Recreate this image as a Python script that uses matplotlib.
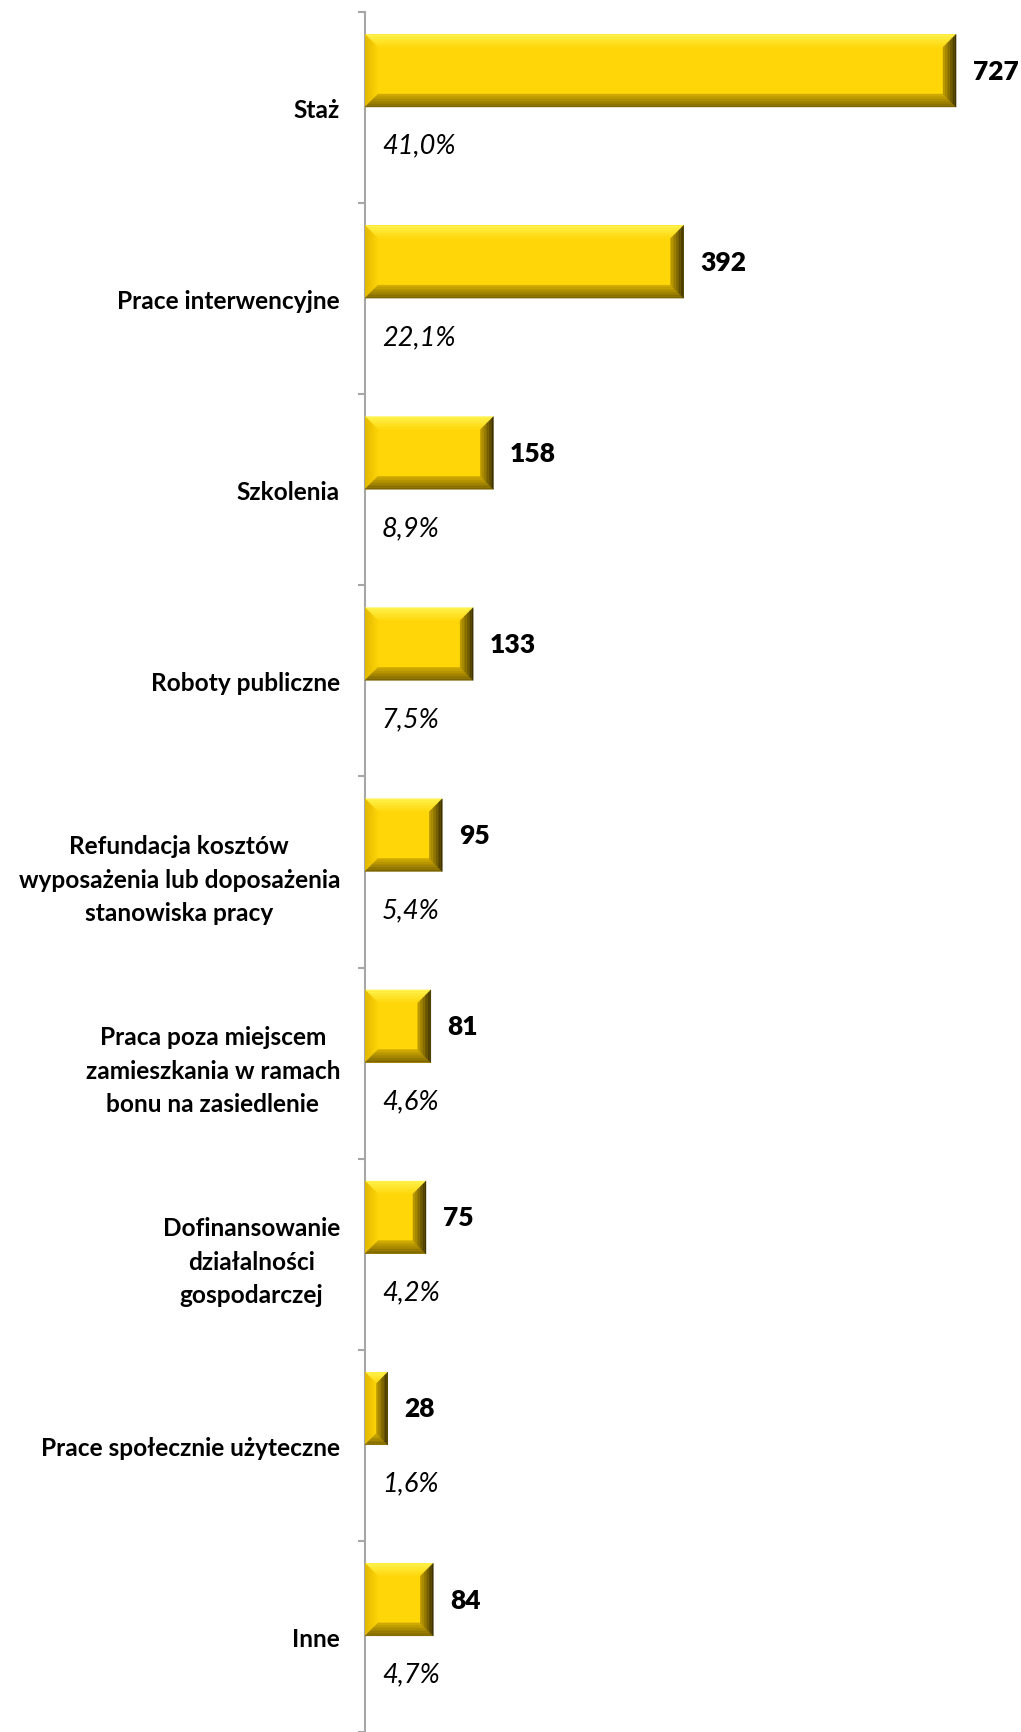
import numpy as np
import matplotlib.pyplot as plt
from matplotlib.patches import Polygon
from matplotlib.colors import to_rgb

# data
categories = [
    "Staż",
    "Prace interwencyjne",
    "Szkolenia",
    "Roboty publiczne",
    "Refundacja kosztów\nwyposażenia lub doposażenia\nstanowiska pracy",
    "Praca poza miejscem\nzamieszkania w ramach\nbonu na zasiedlenie",
    "Dofinansowanie\ndziałalności\ngospodarczej",
    "Prace społecznie użyteczne",
    "Inne",
]
counts = [727, 392, 158, 133, 95, 81, 75, 28, 84]
shares = ["41,0%", "22,1%", "8,9%", "7,5%", "5,4%", "4,6%", "4,2%", "1,6%", "4,7%"]

plt.rcParams['font.family'] = ['Lato', 'DejaVu Sans']

W, H = 1021, 1733
fig = plt.figure(figsize=(W / 100, H / 100), dpi=100)
ax_left, ax_top = 365, 13
ax = fig.add_axes([ax_left / W, 0, 1 - ax_left / W, 1 - ax_top / H])

band_px = 191.9
px_per_unit = 0.813
ax.set_xlim(0, (W - ax_left) / px_per_unit)
ax.set_ylim((H - ax_top) / band_px, 0)

n = len(categories)
pos = np.arange(n)
bar_c = pos + 0.307
face = "#FFD608"
bars = ax.barh(bar_c, counts, height=0.38, color=face, edgecolor="none", zorder=2)


def mix(c1, c2, t):
    a, b = np.array(to_rgb(c1)), np.array(to_rgb(c2))
    return tuple(a + (b - a) * t)


# bevel faces derived from each bar rectangle, shaded from outer edge to face colour
fig.canvas.draw()
inv = ax.transData.inverted()
steps = 8
for b in bars:
    (x0, y0), (x1, y1) = ax.transData.transform([(b.get_x(), b.get_y()),
                                                (b.get_x() + b.get_width(), b.get_y() + b.get_height())])
    ylo, yhi = min(y0, y1), max(y0, y1)
    bv = min(13, (x1 - x0) / 2, (yhi - ylo) / 2)
    for k in range(steps):
        a, c = bv * k / steps, bv * (k + 1) / steps
        t = k / steps
        faces = [
            ([(x0 + a, yhi - a), (x1 - a, yhi - a), (x1 - c, yhi - c), (x0 + c, yhi - c)],
             mix("#FFF24C", face, t)),  # top
            ([(x0 + a, ylo + a), (x0 + a, yhi - a), (x0 + c, yhi - c), (x0 + c, ylo + c)],
             mix("#E2B800", face, t)),  # left
            ([(x0 + a, ylo + a), (x1 - a, ylo + a), (x1 - c, ylo + c), (x0 + c, ylo + c)],
             mix("#7C6500", "#D9B200", t)),  # bottom
            ([(x1 - a, ylo + a), (x1 - a, yhi - a), (x1 - c, yhi - c), (x1 - c, ylo + c)],
             mix("#3E3300", "#C9A400", t)),  # right
        ]
        for pts, col in faces:
            ax.add_patch(Polygon(inv.transform(pts), closed=True, facecolor=col,
                                 edgecolor=col, lw=0.3, zorder=3))

for yc, v in zip(bar_c, counts):
    ax.annotate(str(v), (v, yc), xytext=(16.7 * 0.72, 0), textcoords="offset points",
                ha="left", va="center", fontsize=19, fontweight="heavy", color="black")

for i, s in enumerate(shares):
    ax.annotate(s, (0, i + 0.697), xytext=(17 * 0.72, 0), textcoords="offset points",
                ha="left", va="center", fontsize=19.5, fontstyle="italic", color="black")

# axis: only the left spine with outward ticks at band edges
for side in ["top", "right", "bottom"]:
    ax.spines[side].set_visible(False)
ax.spines["left"].set_color("#A6A6A6")
ax.spines["left"].set_linewidth(1.5)
ax.set_xticks([])
ax.set_yticks(np.arange(n + 1))
ax.set_yticklabels([])
ax.tick_params(axis="y", which="major", direction="out", length=5, width=1.5, color="#A6A6A6")
ax.set_yticks(pos + 0.5, minor=True)
ax.set_yticklabels(categories, minor=True, fontsize=17.6, fontweight="bold", linespacing=1.55)
ax.tick_params(axis="y", which="minor", length=0, pad=18)
for lbl in ax.get_yticklabels(minor=True):
    lbl.set_multialignment("center")

fig.savefig("out.png", dpi=100)
